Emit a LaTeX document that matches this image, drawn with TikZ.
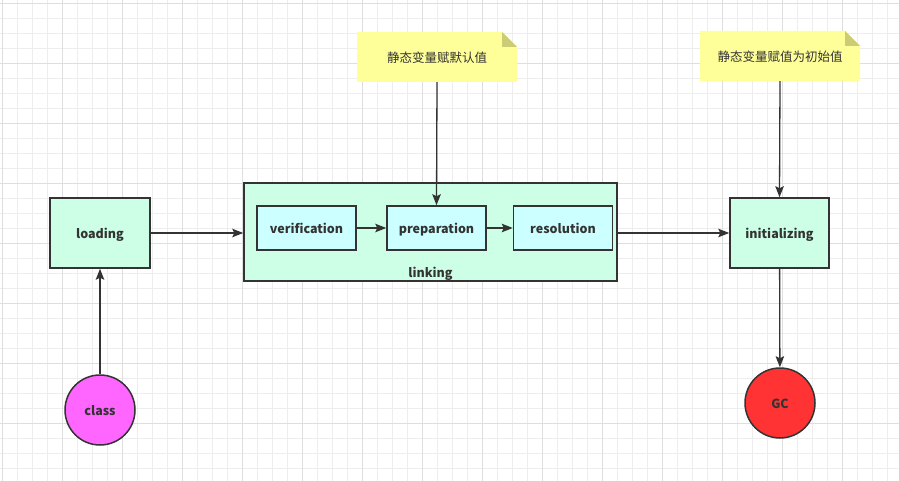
\documentclass[tikz,border=0pt]{standalone}
\usepackage{fontspec}
\setmainfont{Noto Sans CJK SC}
\usetikzlibrary{positioning, arrows.meta, calc}
\definecolor{edgegray}{HTML}{333333}
\definecolor{mintfill}{HTML}{CCFFE6}
\definecolor{cyanfill}{HTML}{CCFFFF}
\definecolor{classpink}{HTML}{FF66FF}
\definecolor{gcred}{HTML}{FF3333}
\definecolor{noteyellow}{HTML}{FFFF99}
\definecolor{notefold}{HTML}{CCCC77}
\definecolor{gridminor}{HTML}{EDEDED}
\definecolor{gridmajor}{HTML}{DEDEDE}

\begin{document}
\begin{tikzpicture}[
      x=1pt, y=-1pt,
      every node/.style={font=\fontsize{12.5}{15}\selectfont\bfseries, text=edgegray,
                         text height=12pt, text depth=1.5pt},
      pbox/.style={draw=edgegray, line width=1.5pt, fill=#1,
                   minimum width=100pt, minimum height=70pt, align=center},
      subbox/.style={draw=edgegray, line width=1.5pt, fill=cyanfill,
                     minimum width=99pt, minimum height=44pt},
      endpoint/.style={circle, draw=edgegray, line width=1.5pt, fill=#1,
                       minimum size=70pt},
      note/.style={minimum width=160pt, minimum height=50pt,
                   font=\fontsize{12.5}{15}\selectfont,
                   path picture={
                     \fill[noteyellow] (path picture bounding box.south west)
                       -- (path picture bounding box.north west)
                       -- ([xshift=-15pt]path picture bounding box.north east)
                       -- ([yshift=-15pt]path picture bounding box.north east)
                       -- (path picture bounding box.south east) -- cycle;
                     \fill[notefold] ([xshift=-15pt]path picture bounding box.north east)
                       -- ([xshift=-15pt,yshift=-15pt]path picture bounding box.north east)
                       -- ([yshift=-15pt]path picture bounding box.north east) -- cycle;
                   }},
      edge/.style={draw=edgegray, line width=1.3pt,
                   -{Stealth[length=11pt, width=8.5pt, inset=2pt]}},
    ]
    % background grid
    \useasboundingbox (0,0) rectangle (899,481);
    \fill[white] (0,0) rectangle (899,481);
    \foreach \gx in {2.3,17.3,...,899}
      \draw[gridminor, line width=0.8pt] (\gx,0) -- (\gx,481);
    \foreach \gy in {3.3,18.3,...,481}
      \draw[gridminor, line width=0.8pt] (0,\gy) -- (899,\gy);
    \foreach \gx in {2.3,62.3,...,899}
      \draw[gridmajor, line width=0.8pt] (\gx,0) -- (\gx,481);
    \foreach \gy in {3.3,63.3,...,481}
      \draw[gridmajor, line width=0.8pt] (0,\gy) -- (899,\gy);

    \node[pbox=mintfill] (loading) at (100,233) {loading};
    \node[endpoint=classpink] (class) at (100,410) {class};

    \node[draw=edgegray, line width=1.5pt, fill=mintfill,
          minimum width=373pt, minimum height=98pt] (linking) at (430.5,232) {};
    \node (linkingtxt) at ([yshift=10pt]linking.south) {linking};
    \node[subbox] (verif) at (306.5,228) {verification};
    \node[subbox] (prep)  at (436.5,228) {preparation};
    \node[subbox] (resol) at (563,228)   {resolution};

    \node[pbox=mintfill, minimum width=99pt] (init) at (779.5,233) {initializing};
    \node[endpoint=gcred] (gc) at (780,403) {GC};

    \node[note] (note1) at (437,57) {静态变量赋默认值};
    \node[note] (note2) at (780,56) {静态变量赋值为初始值};

    \draw[edge] (class) -- (loading);
    \draw[edge] (loading.east) -- (loading.east -| linking.west);
    \draw[edge] (verif) -- (prep);
    \draw[edge] (prep) -- (resol);
    \draw[edge] (note1.south) -- (prep.north);
    \draw[edge] (linking.east |- init.west) -- (init.west);
    \draw[edge] (note2.south) -- (init.north);
    \draw[edge] (init) -- (gc);
  \end{tikzpicture}
\end{document}
